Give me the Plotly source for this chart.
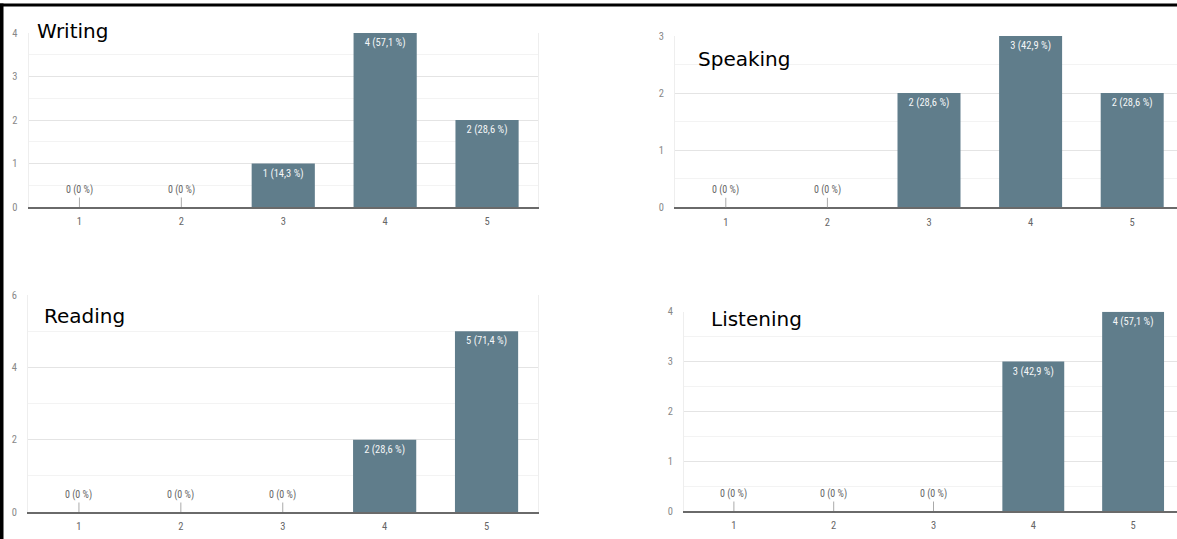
import plotly.graph_objects as go

# ---------------- data ----------------
categories = [1, 2, 3, 4, 5]
writing = [0, 0, 1, 4, 2]
speaking = [0, 0, 2, 3, 2]
reading = [0, 0, 0, 2, 5]
listening = [0, 0, 0, 3, 4]
respondents = 7
panel_titles = ["Writing", "Speaking", "Reading", "Listening"]

W, H = 1177, 539
BAR = "#607d8b"
NARROW = "Liberation Sans Narrow, Roboto Condensed, Arial Narrow, Liberation Sans, Arial, sans-serif"


def label(v):
    pct = round(v / respondents * 100, 1)
    p = "0" if pct == 0 else f"{pct:.1f}".replace(".", ",")
    return f"{v} ({p} %)"


# panel layout in pixels: left, right(true), top, bottom, ymax, dtick, title pos
panels = [
    dict(vals=writing, l=28.5, r=538, t=33, b=207, ymax=4, dt=1, tx=35, ty=31),
    dict(vals=speaking, l=675, r=1183, t=36, b=207.3, ymax=3, dt=1, tx=696, ty=59),
    dict(vals=reading, l=28, r=537.5, t=295, b=512, ymax=6, dt=2, tx=42, ty=316),
    dict(vals=listening, l=684, r=1183, t=311.7, b=511, ymax=4, dt=1, tx=709, ty=319),
]

fig = go.Figure()
annotations = []
layout = {}
for i, (p, title) in enumerate(zip(panels, panel_titles)):
    n = i + 1
    xa = "x" if n == 1 else f"x{n}"
    ya = "y" if n == 1 else f"y{n}"
    xkey = "xaxis" if n == 1 else f"xaxis{n}"
    ykey = "yaxis" if n == 1 else f"yaxis{n}"
    spacing = (p["r"] - p["l"]) / 5.0
    right_px = min(p["r"], W)
    xmax = 0.5 + (right_px - p["l"]) / spacing
    vals = p["vals"]
    fig.add_trace(go.Bar(
        x=categories, y=vals, xaxis=xa, yaxis=ya,
        width=0.62, marker=dict(color=BAR, line=dict(width=0)),
        text=[label(v) if v > 0 else "" for v in vals],
        textposition="inside", insidetextanchor="end", textangle=0,
        textfont=dict(color="#f4f6f7", size=10.5, family=NARROW),
        constraintext="none", hoverinfo="skip", showlegend=False,
    ))
    layout[xkey] = dict(
        domain=[p["l"] / W, right_px / W], range=[0.5, xmax], anchor=ya,
        tickvals=categories, ticktext=[str(c) for c in categories],
        showgrid=False, zeroline=False, showline=True, linecolor="#6a6a6a", linewidth=1.5,
        ticks="", ticklabelstandoff=4, automargin=False,
        tickfont=dict(size=10.5, color="#666666", family=NARROW),
    )
    layout[ykey] = dict(
        domain=[1 - p["b"] / H, 1 - p["t"] / H], range=[0, p["ymax"]], anchor=xa,
        dtick=p["dt"], tick0=0, showgrid=True, gridcolor="#e4e4e4", gridwidth=1,
        minor=dict(dtick=p["dt"] / 2, showgrid=True, gridcolor="#f3f3f3", gridwidth=1),
        zeroline=False, showline=True, linecolor="#eeeeee", linewidth=1,
        mirror=(p["r"] <= W), automargin=False,
        ticks="", ticklabelstandoff=8,
        tickfont=dict(size=10.5, color="#888888", family=NARROW),
    )
    for c, v in zip(categories, vals):
        if v == 0:
            annotations.append(dict(
                x=c, y=0, xref=xa, yref=ya, text=label(v), showarrow=True,
                arrowhead=0, arrowwidth=1, arrowcolor="#aaaaaa", ax=0, ay=-17,
                standoff=0, font=dict(size=10, color="#666666", family=NARROW),
            ))
    annotations.append(dict(
        x=p["tx"] / W, y=1 - p["ty"] / H, xref="paper", yref="paper",
        xanchor="left", yanchor="middle", text=title, showarrow=False,
        font=dict(size=20, color="#000000", family="DejaVu Sans"),
    ))

shapes = [
    dict(type="rect", xref="paper", yref="paper", x0=0, x1=1, y0=1 - 6.5 / H, y1=1 - 3.5 / H,
         fillcolor="black", line=dict(width=0)),
    dict(type="rect", xref="paper", yref="paper", x0=0, x1=3.5 / W, y0=0, y1=1 - 3.5 / H,
         fillcolor="black", line=dict(width=0)),
]

fig.update_layout(
    width=W, height=H, margin=dict(l=0, r=0, t=0, b=0, pad=0, autoexpand=False),
    paper_bgcolor="white", plot_bgcolor="white",
    annotations=annotations, shapes=shapes, **layout,
)
fig.write_html(
    "out.html",
    config={"responsive": False, "displayModeBar": False},
    post_script="document.body.style.margin='0';document.body.style.padding='0';document.body.style.overflow='hidden';",
)
